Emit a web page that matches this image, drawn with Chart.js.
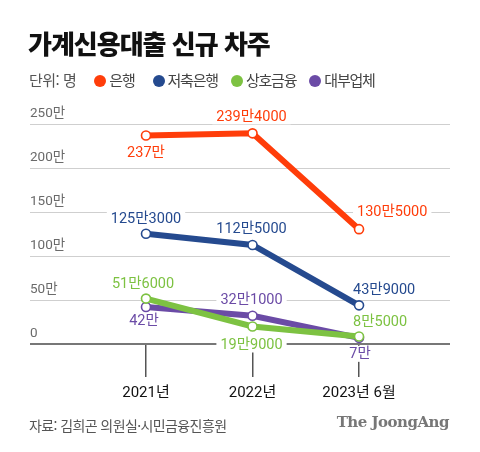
<!DOCTYPE html>
<html lang="ko">
<head>
<meta charset="utf-8">
<script src="https://cdn.jsdelivr.net/npm/chart.js@4"></script>
<style>
  html, body { margin:0; padding:0; background:#fff; }
  #wrap { position:relative; width:480px; height:452px; overflow:hidden; font-family:'Noto Sans CJK KR', sans-serif; }
  #chart { position:absolute; left:0; top:0; }
  .title { position:absolute; left:28px; top:24px; font-size:26px; font-weight:900; letter-spacing:-1px; color:#111; line-height:38px; }
  .legend { position:absolute; left:29px; top:69px; font-size:15px; line-height:22px; color:#444; white-space:nowrap; }
  .legend .unit { color:#555; margin-right:18px; letter-spacing:-0.5px; }
  .legend .item { margin-right:13px; letter-spacing:-1.2px; }
  .legend .item:nth-child(2) { margin-right:18px; }
  .legend .dot { display:inline-block; width:12px; height:12px; border-radius:50%; vertical-align:-1px; margin-right:3px; }
  .source { position:absolute; left:29px; top:415px; font-size:14px; color:#555; letter-spacing:-0.6px; }
  .logo { position:absolute; right:31px; top:413px; font-family:'DejaVu Serif', serif; font-weight:bold; font-size:15px; color:#777; letter-spacing:-0.5px; }
</style>
</head>
<body>
<div id="wrap">
  <canvas id="chart" width="480" height="452"></canvas>
  <div class="title">가계신용대출 신규 차주</div>
  <div class="legend" id="legend"></div>
  <div class="source">자료: 김희곤 의원실·시민금융진흥원</div>
  <div class="logo">The JoongAng</div>
</div>
<script>
// 단위: 만 명
const years   = ['2021년', '2022년', '2023년 6월'];
const bank    = [237, 239.4, 130.5];   // 은행
const savings = [125.3, 112.5, 43.9];  // 저축은행
const mutual  = [51.6, 19.9, 8.5];     // 상호금융
const lender  = [42, 32.1, 7];         // 대부업체
const yTicks  = [0, 50, 100, 150, 200, 250];

const COLORS = { bank:'#ff3d0a', savings:'#254a8f', mutual:'#7dc242', lender:'#6b4ba6' };

// 라벨 위치 (dx, dy, 정렬) - 스타일 전용
const posBank    = [[0, 17, 'center'], [-1, -17, 'center'], [-2, -18, 'left']];
const posSavings = [[0, -15, 'center'], [-1, -17, 'center'], [-6, -16, 'left']];
const posMutual  = [[-3, -15, 'center'], [-1, 18, 'center'], [-6, -15, 'left']];
const posLender  = [[-2, 13, 'center'], [-1, -16, 'center'], [1, 16, 'center']];

function fmt(v){
  const man = Math.floor(v);
  const rest = Math.round((v - man) * 10000);
  return man + '만' + (rest ? rest : '');
}
function pts(arr){ return arr.map((v, i) => ({ x:i, y:v })); }

function ds(label, data, color, pos){
  return {
    label, data: pts(data), borderColor: color, backgroundColor: '#fff',
    borderWidth: 6, pointRadius: 4.5, pointBorderWidth: 1.6,
    pointBackgroundColor: '#fff', pointBorderColor: color,
    pointHoverRadius: 4.5, tension: 0, labelPos: pos
  };
}

// legend (html)
document.getElementById('legend').innerHTML =
  '<span class="unit">단위: 명</span>' +
  [['은행', COLORS.bank], ['저축은행', COLORS.savings], ['상호금융', COLORS.mutual], ['대부업체', COLORS.lender]]
    .map(([t, c]) => `<span class="item"><span class="dot" style="background:${c}"></span>${t}</span>`).join('');

const LABEL_FONT = '14.5px Roboto, "Noto Sans CJK KR", sans-serif';

function labelBoxes(chart, cb){
  const ctx = chart.ctx;
  ctx.save();
  ctx.font = LABEL_FONT;
  chart.data.datasets.forEach((d, di) => {
    const meta = chart.getDatasetMeta(di);
    meta.data.forEach((p, i) => {
      const [dx, dy, align] = d.labelPos[i];
      const text = fmt(d.data[i].y);
      const w = ctx.measureText(text).width;
      const x = p.x + dx, y = p.y + dy;
      const left = align === 'left' ? x : x - w / 2;
      cb(ctx, d, text, left, y, w);
    });
  });
  ctx.restore();
}

const valueLabels = {
  id: 'valueLabels',
  beforeDatasetsDraw(chart){
    labelBoxes(chart, (ctx, d, text, left, y, w) => {
      ctx.fillStyle = '#fff';
      ctx.fillRect(left - 4, y - 8, w + 8, 16);
    });
  },
  afterDatasetsDraw(chart){
    labelBoxes(chart, (ctx, d, text, left, y) => {
      ctx.fillStyle = d.borderColor;
      ctx.textAlign = 'left';
      ctx.textBaseline = 'middle';
      ctx.fillText(text, left, y + 1);
    });
  }
};

new Chart(document.getElementById('chart'), {
  type: 'line',
  data: {
    datasets: [
      ds('은행', bank, COLORS.bank, posBank),
      ds('저축은행', savings, COLORS.savings, posSavings),
      ds('상호금융', mutual, COLORS.mutual, posMutual),
      ds('대부업체', lender, COLORS.lender, posLender)
    ]
  },
  options: {
    responsive: false,
    animation: false,
    events: [],
    layout: { padding: { top: 124, left: 30, right: 30, bottom: 0 } },
    plugins: { legend: { display: false }, tooltip: { enabled: false } },
    scales: {
      x: {
        type: 'linear', min: -1.089, max: 2.854,
        afterBuildTicks: s => { s.ticks = years.map((_, i) => ({ value: i })); },
        afterFit: s => { s.height = 108; },
        border: { display: false },
        grid: { drawOnChartArea: false, drawTicks: true, tickLength: 33, color: '#555', lineWidth: 1.5 },
        ticks: {
          callback: v => years[v], padding: 7, color: '#111', maxRotation: 0, autoSkip: false,
          font: { family: 'Roboto, "Noto Sans CJK KR", sans-serif', size: 15 }
        }
      },
      y: {
        min: 0, max: 250,
        afterBuildTicks: s => { s.ticks = yTicks.map(v => ({ value: v })); },
        afterFit: s => { s.width = 0; },
        border: { display: false },
        grid: {
          drawTicks: false,
          color: c => c.tick.value === 0 ? '#777' : '#cfcfcf',
          lineWidth: c => c.tick.value === 0 ? 2 : 1
        },
        ticks: {
          mirror: true, padding: 0, labelOffset: -10, color: '#6a6a6a',
          font: { family: 'Roboto, "Noto Sans CJK KR", sans-serif', size: 13.5 },
          callback: v => v === 0 ? '0' : v + '만'
        }
      }
    }
  },
  plugins: [valueLabels]
});
</script>
</body>
</html>
